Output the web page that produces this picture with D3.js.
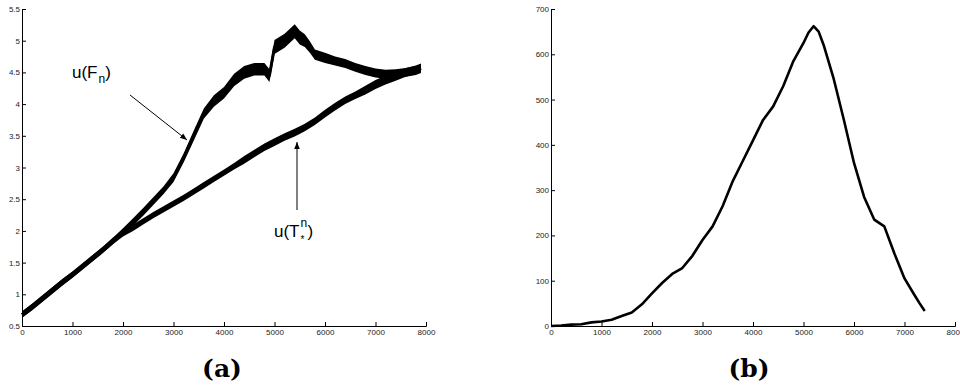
<!DOCTYPE html>
<html>
<head>
<meta charset="utf-8">
<script src="https://cdn.jsdelivr.net/npm/d3@7"></script>
<style>
  html, body { margin: 0; padding: 0; background: #fff; }
  svg { display: block; }
  .tick text { font-family: "Liberation Sans", Arial, sans-serif; font-size: 8px; fill: #222; }
  .domain, .tick line { stroke: #000; stroke-width: 1; }
</style>
</head>
<body>
<svg id="chart" width="960" height="387"></svg>
<script>
// Panel (a): iteration index and the two estimates u(F_n), u(T*^n)
const iterA = [0, 200, 400, 600, 800, 1000, 1200, 1400, 1600, 1800, 2000, 2200, 2400, 2600, 2800,
  3000, 3200, 3400, 3600, 3800, 4000, 4200, 4400, 4600, 4800, 4900, 5000, 5200, 5400, 5500,
  5600, 5700, 5800, 6000, 6200, 6400, 6600, 6800, 7000, 7200, 7400, 7600, 7800, 7900];
const uF = [0.68, 0.80, 0.93, 1.06, 1.19, 1.31, 1.44, 1.57, 1.70, 1.84, 1.99, 2.14, 2.30, 2.47, 2.64,
  2.84, 3.15, 3.50, 3.85, 4.05, 4.18, 4.38, 4.50, 4.55, 4.55, 4.45, 4.90, 5.00, 5.15, 5.05,
  5.00, 4.90, 4.78, 4.73, 4.68, 4.64, 4.58, 4.53, 4.49, 4.47, 4.48, 4.50, 4.53, 4.56];
// half-width of the noisy band around u(F_n)
const uFSpread = [0.05, 0.05, 0.05, 0.05, 0.05, 0.05, 0.05, 0.05, 0.05, 0.05, 0.05, 0.06, 0.06, 0.06, 0.06,
  0.07, 0.07, 0.08, 0.08, 0.09, 0.09, 0.10, 0.10, 0.10, 0.10, 0.10, 0.11, 0.11, 0.11, 0.11,
  0.10, 0.09, 0.08, 0.08, 0.07, 0.07, 0.07, 0.07, 0.07, 0.07, 0.07, 0.07, 0.07, 0.07];

const iterT = [0, 200, 400, 600, 800, 1000, 1200, 1400, 1600, 1800, 2000, 2200, 2400, 2600, 2800,
  3000, 3200, 3400, 3600, 3800, 4000, 4200, 4400, 4600, 4800, 5000, 5200, 5400, 5600, 5800,
  6000, 6200, 6400, 6600, 6800, 7000, 7200, 7400, 7600, 7800, 7900];
const uT = [0.68, 0.80, 0.93, 1.06, 1.19, 1.31, 1.44, 1.57, 1.70, 1.84, 1.96, 2.05, 2.15, 2.25, 2.34,
  2.43, 2.52, 2.62, 2.72, 2.82, 2.92, 3.02, 3.12, 3.22, 3.32, 3.40, 3.48, 3.55, 3.63, 3.73,
  3.85, 3.96, 4.06, 4.14, 4.22, 4.31, 4.38, 4.44, 4.50, 4.54, 4.57];
const uTSpread = [0.05, 0.05, 0.05, 0.05, 0.05, 0.05, 0.05, 0.05, 0.05, 0.05, 0.05, 0.05, 0.05, 0.05, 0.05,
  0.05, 0.05, 0.05, 0.05, 0.05, 0.05, 0.05, 0.06, 0.06, 0.06, 0.06, 0.06, 0.06, 0.06, 0.06,
  0.06, 0.06, 0.06, 0.06, 0.07, 0.07, 0.07, 0.07, 0.07, 0.07, 0.07];

// Panel (b): count per iteration
const iterB = [0, 200, 400, 600, 800, 1000, 1200, 1400, 1600, 1800, 2000, 2200, 2400, 2600, 2800,
  3000, 3200, 3400, 3600, 3800, 4000, 4200, 4400, 4600, 4800, 5000, 5100, 5200, 5300, 5400,
  5600, 5800, 6000, 6200, 6400, 6600, 6800, 7000, 7200, 7300, 7400];
const countB = [0, 1, 3, 4, 8, 10, 14, 22, 30, 48, 72, 95, 115, 128, 155,
  190, 220, 265, 320, 365, 410, 455, 485, 530, 585, 625, 648, 662, 650, 620,
  545, 455, 360, 285, 235, 220, 160, 105, 68, 50, 33];

const xTicks = [0, 1000, 2000, 3000, 4000, 5000, 6000, 7000, 8000];
const yTicksA = [0.5, 1, 1.5, 2, 2.5, 3, 3.5, 4, 4.5, 5, 5.5];
const yTicksB = [0, 100, 200, 300, 400, 500, 600, 700];

const svg = d3.select("#chart");

const defs = svg.append("defs");
defs.append("marker")
  .attr("id", "head")
  .attr("viewBox", "0 0 10 10")
  .attr("refX", 10).attr("refY", 5)
  .attr("markerWidth", 7).attr("markerHeight", 7)
  .attr("markerUnits", "userSpaceOnUse")
  .attr("orient", "auto")
  .append("path").attr("d", "M0,1 L10,5 L0,9 Z").attr("fill", "#000");

function panel(g, xr, yDomain, yTicks, yFmt) {
  const x = d3.scaleLinear().domain([0, 8000]).range(xr);
  const y = d3.scaleLinear().domain(yDomain).range([326, 9]);
  g.append("g").attr("transform", "translate(0,326)")
    .call(d3.axisBottom(x).tickValues(xTicks).tickSize(-4).tickPadding(3).tickFormat(d3.format("d")));
  g.append("g").attr("transform", `translate(${xr[0]},0)`)
    .call(d3.axisLeft(y).tickValues(yTicks).tickSize(-4).tickPadding(2).tickFormat(yFmt));
  return { x, y };
}

// ---- panel (a)
const gA = svg.append("g");
const A = panel(gA, [22, 426], [0.5, 5.5], yTicksA, d => String(d));

function band(xs, ys, sp, sc) {
  const pts = xs.map((v, i) => [v, ys[i], sp[i]]);
  gA.append("path").datum(pts)
    .attr("d", d3.area().x(d => sc.x(d[0])).y0(d => sc.y(d[1] - d[2])).y1(d => sc.y(d[1] + d[2])))
    .attr("fill", "#000");
  gA.append("path").datum(pts)
    .attr("d", d3.line().x(d => sc.x(d[0])).y(d => sc.y(d[1])))
    .attr("fill", "none").attr("stroke", "#000").attr("stroke-width", 3).attr("stroke-linejoin", "round");
}
band(iterT, uT, uTSpread, A);
band(iterA, uF, uFSpread, A);

// annotation arrows
gA.append("line").attr("x1", 130).attr("y1", 95).attr("x2", 187).attr("y2", 140)
  .attr("stroke", "#000").attr("stroke-width", 1).attr("marker-end", "url(#head)");
gA.append("line").attr("x1", 297).attr("y1", 210).attr("x2", 297).attr("y2", 142)
  .attr("stroke", "#000").attr("stroke-width", 1).attr("marker-end", "url(#head)");

const lblFont = "'Liberation Sans', Arial, sans-serif";
const tF = gA.append("text").attr("x", 72).attr("y", 78)
  .attr("font-family", lblFont).attr("font-size", 17).attr("fill", "#000");
tF.append("tspan").text("u(F");
tF.append("tspan").attr("font-size", 12).attr("dx", 1).attr("dy", 5).text("n");
tF.append("tspan").attr("dy", -5).text(")");

const tT = gA.append("text").attr("x", 274).attr("y", 237)
  .attr("font-family", lblFont).attr("font-size", 17).attr("fill", "#000").text("u(T");
const tEnd = 274 + tT.node().getComputedTextLength();
gA.append("text").attr("x", tEnd + 1).attr("y", 227)
  .attr("font-family", lblFont).attr("font-size", 12).attr("fill", "#000").text("n");
gA.append("text").attr("x", tEnd + 1).attr("y", 243)
  .attr("font-family", lblFont).attr("font-size", 10).attr("fill", "#000").text("*");
gA.append("text").attr("x", tEnd + 8).attr("y", 237)
  .attr("font-family", lblFont).attr("font-size", 17).attr("fill", "#000").text(")");

// ---- panel (b)
const gB = svg.append("g");
const B = panel(gB, [551, 955], [0, 700], yTicksB, d3.format("d"));
gB.append("path").datum(iterB.map((v, i) => [v, countB[i]]))
  .attr("d", d3.line().x(d => B.x(d[0])).y(d => B.y(d[1])))
  .attr("fill", "none").attr("stroke", "#000").attr("stroke-width", 2.6).attr("stroke-linejoin", "round");

// panel captions
const capFont = "'DejaVu Serif', serif";
svg.append("text").attr("x", 222).attr("y", 377).attr("text-anchor", "middle")
  .attr("font-family", capFont).attr("font-weight", "bold").attr("font-size", 25).text("(a)");
svg.append("text").attr("x", 749).attr("y", 377).attr("text-anchor", "middle")
  .attr("font-family", capFont).attr("font-weight", "bold").attr("font-size", 25).text("(b)");
</script>
</body>
</html>
